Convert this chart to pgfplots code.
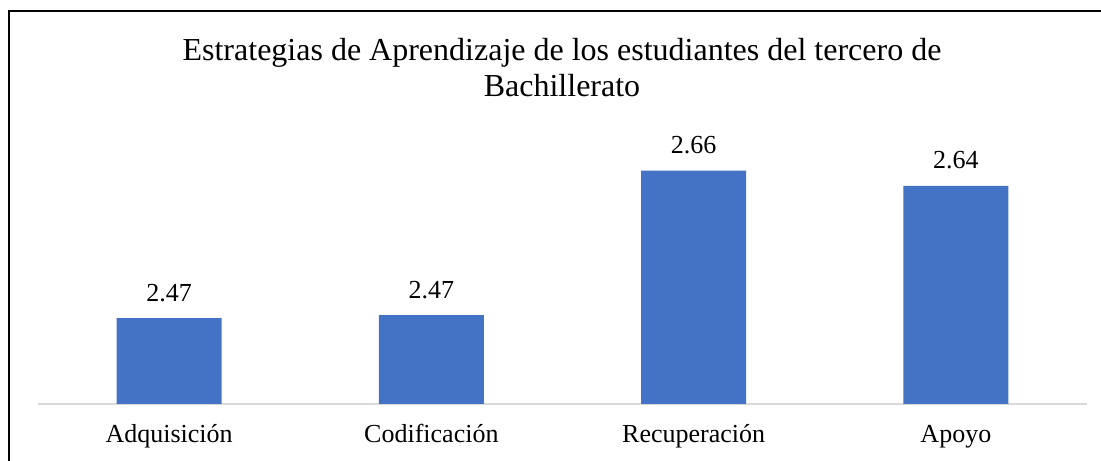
\documentclass[border=0pt]{standalone}
\usepackage{fontspec}
\setmainfont{Liberation Serif}
\usepackage{pgfplots}
\pgfplotsset{compat=1.18}
\definecolor{barblue}{HTML}{4472C4}
\definecolor{axgray}{HTML}{D9D9D9}
\begin{document}
\begin{tikzpicture}[x=1bp,y=1bp]
\useasboundingbox (0,0) rectangle (1101,461);
\draw[line width=2bp] (9,0) -- (9,450) -- (1101,450);
\node[anchor=base, inner sep=0pt, font=\fontsize{32bp}{40bp}\selectfont] at (562,400) {Estrategias de Aprendizaje de los estudiantes del tercero de};
\node[anchor=base, inner sep=0pt, font=\fontsize{32bp}{40bp}\selectfont] at (562,364) {Bachillerato};
\begin{axis}[
  at={(38bp,57bp)}, anchor=south west,
  width=1049bp, height=275bp, scale only axis,
  ybar, bar width=105bp,
  xmin=-0.5, xmax=3.5, ymin=2.353, ymax=2.7148,
  axis y line=none, axis x line=bottom,
  x axis line style={-, draw=axgray, line width=1.5bp},
  xtick={0,1,2,3},
  xticklabels={Adquisición,Codificación,Recuperación,Apoyo},
  major tick length=0pt,
  xticklabel style={anchor=base, inner sep=0pt, yshift=-39bp, font=\fontsize{26bp}{30bp}\selectfont},
  point meta=explicit symbolic,
  nodes near coords,
  nodes near coords style={anchor=base, inner sep=0pt, yshift=17bp, font=\fontsize{26bp}{30bp}\selectfont},
  clip=false,
]
\addplot[fill=barblue, draw=none] coordinates {(0,2.466) [2.47] (1,2.470) [2.47] (2,2.660) [2.66] (3,2.640) [2.64]};
\end{axis}
\end{tikzpicture}
\end{document}
